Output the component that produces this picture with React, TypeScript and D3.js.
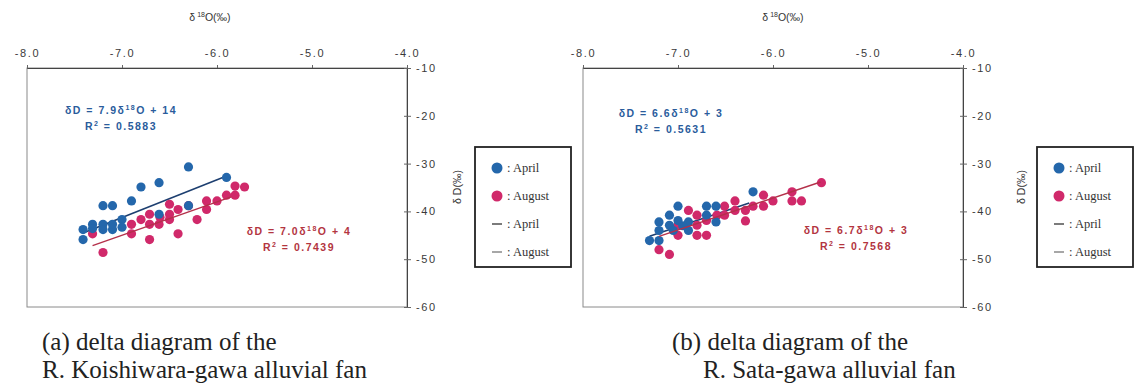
import { useEffect, useRef } from 'react';
import * as d3 from 'd3';

type Pt = [number, number];

const X_TICKS = [-8, -7, -6, -5, -4];
const Y_TICKS = [-10, -20, -30, -40, -50, -60];

// (a) Koishiwara-gawa
const KOI_APRIL: Pt[] = [
  [-7.41, -43.8], [-7.41, -45.9], [-7.31, -42.7], [-7.31, -43.6], [-7.2, -38.8], [-7.1, -38.8],
  [-7.2, -42.7], [-7.2, -43.8], [-7.1, -43.8], [-7.1, -42.7], [-7.0, -41.7], [-7.0, -43.3],
  [-6.9, -37.8], [-6.8, -34.9], [-6.61, -34.0], [-6.61, -40.6], [-6.3, -30.7], [-6.3, -38.8],
  [-5.9, -32.9],
];
const KOI_AUGUST: Pt[] = [
  [-7.31, -44.7], [-7.2, -48.6], [-6.9, -42.7], [-6.9, -44.7], [-6.8, -41.7], [-6.71, -40.6],
  [-6.71, -42.7], [-6.71, -45.9], [-6.61, -42.7], [-6.5, -38.5], [-6.5, -40.6], [-6.5, -41.7],
  [-6.41, -39.6], [-6.41, -44.7], [-6.3, -38.8], [-6.21, -41.7], [-6.11, -39.6], [-6.11, -37.8],
  [-6.0, -37.8], [-5.9, -36.6], [-5.81, -34.7], [-5.81, -36.6], [-5.71, -34.9], [-6.6, -41.2],
];

// (b) Sata-gawa
const SATA_APRIL: Pt[] = [
  [-7.3, -46.1], [-7.2, -46.1], [-7.2, -42.2], [-7.2, -44.0], [-7.09, -40.8], [-7.09, -42.9],
  [-7.0, -38.9], [-7.0, -41.9], [-6.89, -42.2], [-6.89, -44.0], [-6.7, -38.9], [-6.6, -38.9],
  [-6.6, -42.2], [-6.7, -40.8], [-6.21, -35.9], [-7.05, -44.0], [-6.95, -43.0],
];
const SATA_AUGUST: Pt[] = [
  [-7.2, -48.0], [-7.09, -49.0], [-7.0, -42.9], [-7.0, -45.0], [-6.89, -39.8], [-6.8, -40.8],
  [-6.8, -45.0], [-6.7, -45.0], [-6.8, -42.9], [-6.7, -41.9], [-6.59, -40.8], [-6.51, -38.9],
  [-6.51, -40.8], [-6.4, -37.8], [-6.4, -39.8], [-6.29, -39.8], [-6.29, -42.0], [-6.21, -38.9],
  [-6.1, -36.6], [-6.1, -38.9], [-6.0, -37.8], [-5.8, -35.9], [-5.8, -37.8], [-5.7, -37.8],
  [-5.49, -34.0],
];

const BLUE = '#2467ab';
const RED = '#d0296a';
const BLUE_TXT = '#2a5c9c';
const RED_TXT = '#b3353f';
const BLUE_LINE = '#1d3f70';
const RED_LINE = '#b4304a';
const SANS = 'Liberation Sans, Arial, sans-serif';
const SERIF = 'Liberation Serif, Times New Roman, serif';

type Fit = { slope: number; icept: number; from: number; to: number; r2: string };

type PanelProps = {
  x0: number;
  april: Pt[];
  august: Pt[];
  aprilFit: Fit;
  augustFit: Fit;
  titleX: number;
  aprilEq: [number, number];
  augustEq: [number, number];
  yTitleX: number;
  legendX: number;
  caption: [string, string];
  captionX: [number, number];
};

function Panel(p: PanelProps) {
  const gRef = useRef<SVGGElement>(null);
  const x = d3.scaleLinear().domain([-8, -4]).range([p.x0, p.x0 + 380]);
  const y = d3.scaleLinear().domain([-10, -60]).range([68, 307]);

  useEffect(() => {
    const g = d3.select(gRef.current);
    g.selectAll('*').remove();

    const top = g.append('g').attr('transform', 'translate(0,68)')
      .call(d3.axisTop(x).tickValues(X_TICKS).tickSize(3).tickPadding(8).tickFormat((d) => (+d).toFixed(1)));
    const right = g.append('g').attr('transform', `translate(${p.x0 + 380},0)`)
      .call(d3.axisRight(y).tickValues(Y_TICKS).tickSize(4).tickPadding(5).tickFormat((d) => String(d)));
    [top, right].forEach((ax) => {
      ax.select('.domain').attr('stroke', '#444').attr('stroke-width', 1);
      ax.selectAll('.tick line').attr('stroke', '#666');
      ax.selectAll('.tick text')
        .attr('fill', '#3a3a3a')
        .attr('font-family', SANS)
        .attr('font-size', 11)
        .attr('letter-spacing', 1.6);
    });
    right.selectAll('.tick line').attr('x1', -3);
  }, [p.x0]);

  const line = (f: Fit) => d3.line<number>()
    .x((v) => x(v))
    .y((v) => y(f.slope * v + f.icept))([f.from, f.to]) ?? '';

  const eq = (f: Fit, pos: [number, number], color: string) => (
    <text
      fill={color}
      fontFamily={SANS}
      fontWeight="bold"
      fontSize={10.5}
      letterSpacing={1.5}
      textAnchor="middle"
    >
      <tspan x={pos[0]} y={pos[1]}>
        δD = {f.slope.toFixed(1)}δ<tspan fontSize={7} dy={-4}>18</tspan>
        <tspan dy={4}>O + {f.icept}</tspan>
      </tspan>
      <tspan x={pos[0]} y={pos[1] + 16}>
        R<tspan fontSize={7} dy={-4}>2</tspan>
        <tspan dy={4}> = {f.r2}</tspan>
      </tspan>
    </text>
  );

  const lx = p.legendX;
  const legendRows = [
    { kind: 'dot', color: BLUE, label: ': April' },
    { kind: 'dot', color: RED, label: ': August' },
    { kind: 'dash', color: '#333', label: ': April' },
    { kind: 'dash', color: '#777', label: ': August' },
  ];

  return (
    <g>
      <rect x={p.x0} y={68} width={380} height={239} fill="white" stroke="#8a8a8a" strokeWidth={1} />
      <g ref={gRef} />
      <text x={p.titleX} y={21} textAnchor="middle" fontFamily={SANS} fontSize={10.5} fill="#333">
        δ<tspan fontSize={7} dy={-4}> 18</tspan>
        <tspan dy={4}>O(‰)</tspan>
      </text>
      <text
        transform={`translate(${p.yTitleX},187) rotate(-90)`}
        textAnchor="middle"
        fontFamily={SANS}
        fontSize={10.5}
        fill="#333"
      >
        δ D(‰)
      </text>

      <path d={line(p.aprilFit)} stroke={BLUE_LINE} strokeWidth={1.6} fill="none" />
      {p.august.map((d, i) => (
        <circle key={'a' + i} cx={x(d[0])} cy={y(d[1])} r={4.6} fill={RED} />
      ))}
      {p.april.map((d, i) => (
        <circle key={'b' + i} cx={x(d[0])} cy={y(d[1])} r={4.6} fill={BLUE} />
      ))}
      <path d={line(p.augustFit)} stroke={RED_LINE} strokeWidth={1.4} fill="none" />

      {eq(p.aprilFit, p.aprilEq, BLUE_TXT)}
      {eq(p.augustFit, p.augustEq, RED_TXT)}

      <rect x={lx} y={147} width={96} height={120} fill="white" stroke="#222" strokeWidth={1.8} />
      {legendRows.map((r, i) => {
        const cy = 168 + i * 28;
        return (
          <g key={i}>
            {r.kind === 'dot'
              ? <circle cx={lx + 22} cy={cy} r={5.5} fill={r.color} />
              : <line x1={lx + 17} x2={lx + 27} y1={cy} y2={cy} stroke={r.color} strokeWidth={1.3} />}
            <text x={lx + 32} y={cy + 4} fontFamily={SERIF} fontSize={12.5} fill="#333">
              {r.label}
            </text>
          </g>
        );
      })}

      <text fontFamily={SERIF} fontSize={25} fill="#222">
        <tspan x={p.captionX[0]} y={350}>{p.caption[0]}</tspan>
        <tspan x={p.captionX[1]} y={378}>{p.caption[1]}</tspan>
      </text>
    </g>
  );
}

export default function App() {
  return (
    <svg
      width={1135}
      height={383}
      style={{ position: 'absolute', left: 0, top: 0, background: 'white' }}
    >
      <Panel
        x0={27}
        april={KOI_APRIL}
        august={KOI_AUGUST}
        aprilFit={{ slope: 7.9, icept: 14, from: -7.41, to: -5.9, r2: '0.5883' }}
        augustFit={{ slope: 7.0, icept: 4, from: -7.31, to: -5.85, r2: '0.7439' }}
        titleX={210}
        aprilEq={[121, 114]}
        augustEq={[299, 235]}
        yTitleX={461}
        legendX={475}
        caption={['(a) delta diagram of the', 'R. Koishiwara-gawa alluvial fan']}
        captionX={[42, 42]}
      />
      <Panel
        x0={583}
        april={SATA_APRIL}
        august={SATA_AUGUST}
        aprilFit={{ slope: 6.6, icept: 3, from: -7.3, to: -6.25, r2: '0.5631' }}
        augustFit={{ slope: 6.7, icept: 3, from: -7.2, to: -5.5, r2: '0.7568' }}
        titleX={783}
        aprilEq={[671, 117]}
        augustEq={[856, 234]}
        yTitleX={1025}
        legendX={1037}
        caption={['(b) delta diagram of the', 'R. Sata-gawa alluvial fan']}
        captionX={[672, 703]}
      />
    </svg>
  );
}
